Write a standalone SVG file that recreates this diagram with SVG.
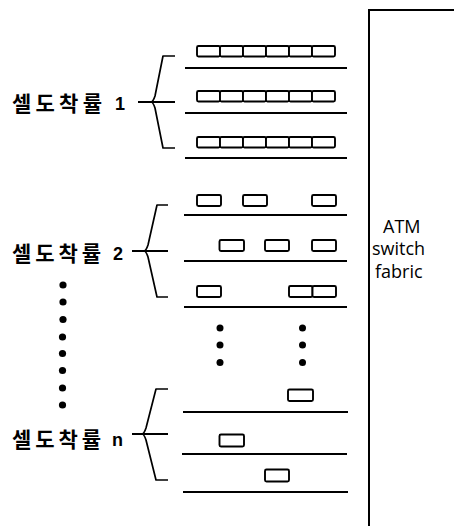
<svg xmlns="http://www.w3.org/2000/svg" width="454" height="526" viewBox="0 0 454 526">
<defs>
<style>
.ln{stroke:#000;stroke-width:2;fill:none;stroke-linecap:butt}
.br{stroke:#000;stroke-width:1.7;fill:none;stroke-linejoin:round}
.cell{stroke:#000;stroke-width:1.9;fill:#fff}
.ko{font-family:"Noto Sans CJK KR","Noto Sans",sans-serif;font-weight:bold;font-size:21px;fill:#000}
.num{font-family:"Liberation Sans",Arial,sans-serif;font-weight:bold;font-size:18px;fill:#000}
.atm{font-family:"Open Sans","Liberation Sans",sans-serif;font-size:18px;fill:#000}
.dot{fill:#000}
</style>
</defs>
<rect width="454" height="526" fill="#fff"/>

<g id="switch-fabric">
<path class="ln" d="M369,526 V10 H454"/>
<text class="atm" x="383" y="233">ATM</text>
<text class="atm" x="372" y="255">switch</text>
<text class="atm" x="375" y="278">fabric</text>
</g>

<g id="group1">
<text class="ko" x="12" y="111" textLength="90" lengthAdjust="spacing">셀도착률</text>
<text class="num" x="115" y="110">1</text>
<path class="br" d="M175,56 H163 L155,96 Q153,102 151,102 Q153,102 155,108 L163,148 H175"/>
<path class="ln" d="M138,102 H175"/>
<path class="ln" d="M185,68 H347 M185,113 H347 M185,158 H347"/>
<g>
<rect class="cell" x="197" y="46" width="23" height="10.5" rx="1.5"/>
<rect class="cell" x="220" y="46" width="23" height="10.5" rx="1.5"/>
<rect class="cell" x="243" y="46" width="23" height="10.5" rx="1.5"/>
<rect class="cell" x="266" y="46" width="23" height="10.5" rx="1.5"/>
<rect class="cell" x="289" y="46" width="23" height="10.5" rx="1.5"/>
<rect class="cell" x="312" y="46" width="23" height="10.5" rx="1.5"/>
<rect class="cell" x="197" y="91" width="23" height="10.5" rx="1.5"/>
<rect class="cell" x="220" y="91" width="23" height="10.5" rx="1.5"/>
<rect class="cell" x="243" y="91" width="23" height="10.5" rx="1.5"/>
<rect class="cell" x="266" y="91" width="23" height="10.5" rx="1.5"/>
<rect class="cell" x="289" y="91" width="23" height="10.5" rx="1.5"/>
<rect class="cell" x="312" y="91" width="23" height="10.5" rx="1.5"/>
<rect class="cell" x="197" y="137" width="23" height="10.5" rx="1.5"/>
<rect class="cell" x="220" y="137" width="23" height="10.5" rx="1.5"/>
<rect class="cell" x="243" y="137" width="23" height="10.5" rx="1.5"/>
<rect class="cell" x="266" y="137" width="23" height="10.5" rx="1.5"/>
<rect class="cell" x="289" y="137" width="23" height="10.5" rx="1.5"/>
<rect class="cell" x="312" y="137" width="23" height="10.5" rx="1.5"/>
</g>
</g>

<g id="group2">
<text class="ko" x="12" y="261" textLength="89" lengthAdjust="spacing">셀도착률</text>
<text class="num" x="113" y="260">2</text>
<path class="br" d="M168,205 H157 L148,245 Q146,251 144,251 Q146,251 148,257 L157,297 H168"/>
<path class="ln" d="M132,251 H168"/>
<path class="ln" d="M184,215 H347 M184,261 H347 M184,307 H347"/>
<g>
<rect class="cell" x="197" y="195" width="24" height="11" rx="1.5"/>
<rect class="cell" x="243" y="195" width="24" height="11" rx="1.5"/>
<rect class="cell" x="312" y="195" width="24" height="11" rx="1.5"/>
<rect class="cell" x="219.5" y="240" width="24.5" height="11" rx="1.5"/>
<rect class="cell" x="265" y="240" width="24" height="11" rx="1.5"/>
<rect class="cell" x="312" y="240" width="24" height="11" rx="1.5"/>
<rect class="cell" x="197" y="286" width="24" height="11" rx="1.5"/>
<rect class="cell" x="289" y="286" width="23.5" height="11" rx="1.5"/>
<rect class="cell" x="312.5" y="286" width="23.5" height="11" rx="1.5"/>
</g>
</g>

<g id="ellipsis-left">
<circle class="dot" cx="63" cy="285" r="3.6"/>
<circle class="dot" cx="63" cy="302" r="3.6"/>
<circle class="dot" cx="63" cy="319.5" r="3.6"/>
<circle class="dot" cx="62.5" cy="337" r="3.6"/>
<circle class="dot" cx="62.5" cy="353.5" r="3.6"/>
<circle class="dot" cx="62.5" cy="370.5" r="3.6"/>
<circle class="dot" cx="62.5" cy="388" r="3.6"/>
<circle class="dot" cx="62.5" cy="405" r="3.6"/>
</g>

<g id="ellipsis-middle">
<circle class="dot" cx="220" cy="328" r="3.5"/>
<circle class="dot" cx="220" cy="345" r="3.5"/>
<circle class="dot" cx="220" cy="362.5" r="3.5"/>
<circle class="dot" cx="302.5" cy="328" r="3.5"/>
<circle class="dot" cx="302.5" cy="345" r="3.5"/>
<circle class="dot" cx="302.5" cy="362.5" r="3.5"/>
</g>

<g id="groupn">
<text class="ko" x="12" y="447" textLength="89" lengthAdjust="spacing">셀도착률</text>
<text class="num" x="112" y="446">n</text>
<path class="br" d="M168,389 H156 L146,428 Q144,434 142,434 Q144,434 146,440 L156,480 H168"/>
<path class="ln" d="M132,434 H168"/>
<path class="ln" d="M183,412 H348 M182,454 H347 M183,492 H348"/>
<g>
<rect class="cell" x="288" y="389.5" width="25" height="11.5" rx="1.5"/>
<rect class="cell" x="219.5" y="434.5" width="24.5" height="12" rx="1.5"/>
<rect class="cell" x="265" y="469.5" width="24" height="12" rx="1.5"/>
</g>
</g>
</svg>
